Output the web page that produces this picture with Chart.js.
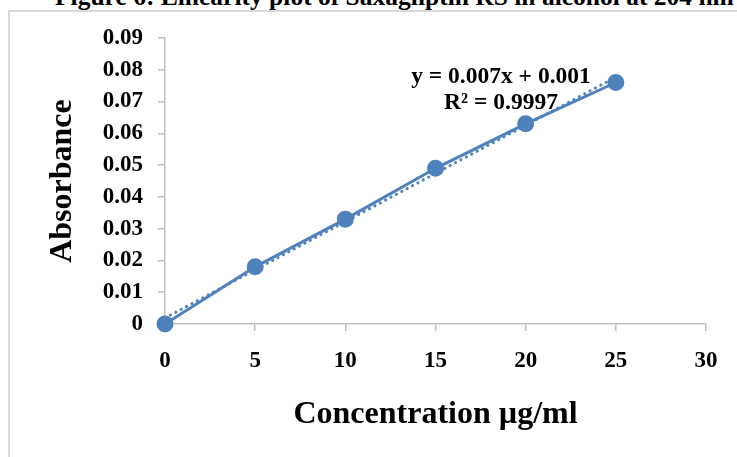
<!DOCTYPE html>
<html>
<head>
<meta charset="utf-8">
<script src="https://cdn.jsdelivr.net/npm/chart.js@4/dist/chart.umd.min.js"></script>
<style>
  body { margin: 0; background: #fff; overflow: hidden; }
  #wrap { position: relative; width: 737px; height: 457px; overflow: hidden; }
  #frame { position: absolute; left: 8px; top: 10px; width: 800px; height: 500px;
           border-left: 2px solid #d9d9d9; border-top: 2px solid #d9d9d9; }
  #title { position: absolute; left: 55px; top: -15px; white-space: nowrap;
           font: bold 25.5px/24px "Liberation Serif", serif; color: #000; }
  #eq { position: absolute; left: 400px; top: 62px; width: 202px; text-align: center;
        font: bold 23.5px/26px "Liberation Serif", serif; color: #000; }
  canvas { position: absolute; left: 0; top: 0; }
</style>
</head>
<body>
<div id="wrap">
  <div id="frame"></div>
  <div id="title">Figure 6: Linearity plot of Saxagliptin RS in alcohol at 204 nm</div>
  <canvas id="chart" width="737" height="457"></canvas>
  <div id="eq">y = 0.007x + 0.001<br>R² = 0.9997</div>
</div>
<script>
// concentration (µg/ml) vs absorbance
const concentrations = [0, 5, 10, 15, 20, 25];
const absorbance = [0, 0.018, 0.033, 0.049, 0.063, 0.076];

// linear trendline end points
const trendX = [0, 25];
const trendY = [0.0019, 0.0777];

const blue = "rgb(79,129,189)";
const axisGray = "#bfbfbf";

const serif = "'Liberation Serif', 'Times New Roman', serif";

const ctx = document.getElementById("chart");

new Chart(ctx, {
  type: "scatter",
  data: {
    datasets: [
      {
        label: "Absorbance",
        data: concentrations.map((c, i) => ({ x: c, y: absorbance[i] })),
        showLine: true,
        clip: false,
        borderColor: blue,
        backgroundColor: blue,
        borderWidth: 3,
        pointRadius: 7,
        pointHoverRadius: 7,
        order: 1
      },
      {
        label: "Linear trend",
        data: trendX.map((c, i) => ({ x: c, y: trendY[i] })),
        showLine: true,
        clip: false,
        borderColor: blue,
        borderWidth: 3,
        borderDash: [0.1, 6],
        borderCapStyle: "round",
        pointRadius: 0,
        order: 2
      }
    ]
  },
  options: {
    responsive: false,
    animation: false,
    layout: { padding: { top: 38, right: 31, left: 0, bottom: 0 } },
    plugins: {
      legend: { display: false },
      tooltip: { enabled: false }
    },
    scales: {
      x: {
        type: "linear",
        min: 0,
        max: 30,
        ticks: {
          stepSize: 5,
          padding: 16,
          color: "#000",
          font: { family: serif, size: 23, weight: "bold" }
        },
        grid: { drawOnChartArea: false, tickLength: 7, color: axisGray, lineWidth: 1.5 },
        border: { color: axisGray, width: 1.5 },
        title: {
          display: true,
          text: "Concentration µg/ml",
          color: "#000",
          font: { family: serif, size: 32, weight: "bold" },
          padding: { top: 0, bottom: 23 }
        },
        afterFit: (scale) => { scale.height = 133; }
      },
      y: {
        min: 0,
        max: 0.09,
        ticks: {
          stepSize: 0.01,
          padding: 15,
          color: "#000",
          font: { family: serif, size: 23, weight: "bold" },
          callback: (v) => (v === 0 ? "0" : v.toFixed(2))
        },
        grid: { drawOnChartArea: false, tickLength: 7, color: axisGray, lineWidth: 1.5 },
        border: { color: axisGray, width: 1.5 },
        title: {
          display: true,
          text: "Absorbance",
          color: "#000",
          font: { family: serif, size: 32, weight: "bold" },
          padding: { top: 44, bottom: 0 }
        },
        afterFit: (scale) => { scale.width = 165; }
      }
    }
  }
});
</script>
</body>
</html>
